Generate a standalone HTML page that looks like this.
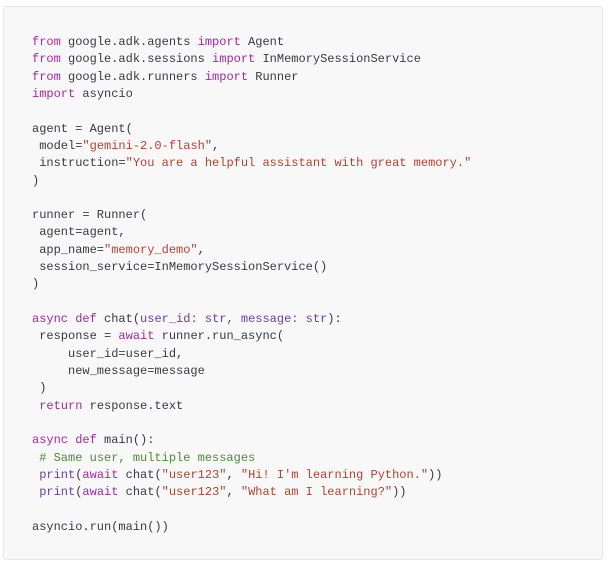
<!DOCTYPE html>
<html><head><meta charset="utf-8"><style>
html,body{margin:0;padding:0;background:#fff;width:608px;height:567px;overflow:hidden}
.box{position:absolute;left:3px;top:6px;width:600px;height:554px;background:#f8f8f8;border:1px solid #e6e6e6;border-radius:3px;box-sizing:border-box}
pre{position:absolute;left:32px;top:34px;margin:0;font-family:"Liberation Mono",monospace;font-size:12px;line-height:17.32px;color:#383a42;white-space:pre}
.k{color:#a626a4}.s{color:#b4412f}.c{color:#4a8a3a}.p{color:#6f3aa8}
</style></head><body>
<div class="box"></div>
<pre><span class="k">from</span> google.adk.agents <span class="k">import</span> Agent
<span class="k">from</span> google.adk.sessions <span class="k">import</span> InMemorySessionService
<span class="k">from</span> google.adk.runners <span class="k">import</span> Runner
<span class="k">import</span> asyncio

agent = Agent(
 model=<span class="s">"gemini-2.0-flash"</span>,
 instruction=<span class="s">"You are a helpful assistant with great memory."</span>
)

runner = Runner(
 agent=agent,
 app_name=<span class="s">"memory_demo"</span>,
 session_service=InMemorySessionService()
)

<span class="k">async</span> <span class="k">def</span> chat(<span class="p">user_id: str, message: str</span>):
 response = <span class="k">await</span> runner.run_async(
     user_id=user_id,
     new_message=message
 )
 <span class="k">return</span> response.text

<span class="k">async</span> <span class="k">def</span> main():
 <span class="c"># Same user, multiple messages</span>
 <span class="p">print</span>(<span class="k">await</span> chat(<span class="s">"user123"</span>, <span class="s">"Hi! I'm learning Python."</span>))
 <span class="p">print</span>(<span class="k">await</span> chat(<span class="s">"user123"</span>, <span class="s">"What am I learning?"</span>))

asyncio.run(main())</pre>
</body></html>
